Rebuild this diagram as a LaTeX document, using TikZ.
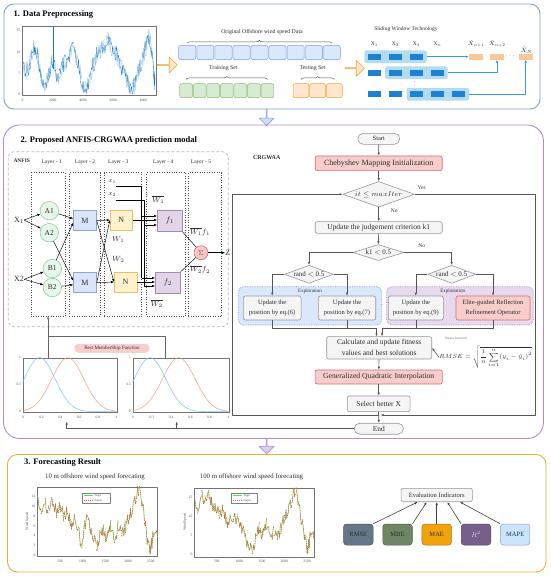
\RequirePackage{fix-cm}
\documentclass[tikz,border=0pt]{standalone}
\usepackage{amsmath}
\usepackage{amssymb}
\usepackage{fontspec}
\setmainfont{Liberation Serif}
\usepackage{tikz}
\usetikzlibrary{arrows.meta}
\usetikzlibrary{shapes.geometric}
\usetikzlibrary{shapes.arrows}
\usetikzlibrary{decorations.pathreplacing}

\newcommand{\fsz}[2]{\fontsize{#1}{#2}\selectfont}

\definecolor{secblue}{RGB}{125,160,215}
\definecolor{secpurple}{RGB}{175,140,205}
\definecolor{secorange}{RGB}{235,175,50}
\definecolor{cellblue}{RGB}{218,232,252}
\definecolor{lineblue}{RGB}{120,160,215}
\definecolor{cellgreen}{RGB}{215,234,210}
\definecolor{linegreen}{RGB}{140,190,120}
\definecolor{cellorange}{RGB}{255,230,204}
\definecolor{lineorange}{RGB}{230,170,60}
\definecolor{winfill}{RGB}{180,220,240}
\definecolor{windark}{RGB}{30,130,210}
\definecolor{predfill}{RGB}{250,200,150}
\definecolor{arrowblue}{RGB}{60,150,230}
\definecolor{downblue}{RGB}{205,222,246}
\definecolor{downpurple}{RGB}{222,205,236}
\definecolor{boxgray}{RGB}{150,150,150}
\definecolor{fillgray}{RGB}{245,245,245}
\definecolor{flowgray}{RGB}{85,85,85}
\definecolor{redfill}{RGB}{248,206,204}
\definecolor{redline}{RGB}{210,110,110}
\definecolor{mfill}{RGB}{218,228,250}
\definecolor{mline}{RGB}{140,165,215}
\definecolor{nfill}{RGB}{255,242,204}
\definecolor{nline}{RGB}{225,195,100}
\definecolor{ffill}{RGB}{225,213,231}
\definecolor{fline}{RGB}{165,135,190}
\definecolor{cfill}{RGB}{230,246,234}
\definecolor{cline}{RGB}{130,200,145}
\definecolor{sfill}{RGB}{248,200,200}
\definecolor{sline}{RGB}{205,95,95}
\definecolor{anfisline}{RGB}{200,170,225}
\definecolor{explfill}{RGB}{218,232,252}
\definecolor{expline}{RGB}{120,160,220}
\definecolor{exptfill}{RGB}{231,218,238}
\definecolor{exptline}{RGB}{170,135,200}
\definecolor{tsblue}{RGB}{30,120,200}
\definecolor{tslight}{RGB}{180,215,243}
\definecolor{mfblue}{RGB}{120,195,235}
\definecolor{mforange}{RGB}{240,160,130}
\definecolor{tgreen}{RGB}{90,225,90}
\definecolor{tred}{RGB}{240,70,70}
\definecolor{ermse}{RGB}{100,118,135}
\definecolor{embe}{RGB}{109,135,100}
\definecolor{emae}{RGB}{240,163,10}
\definecolor{err}{RGB}{118,96,138}
\definecolor{emape}{RGB}{204,229,255}
\definecolor{txt}{RGB}{45,45,45}

\tikzset{
	secframe/.style={line width=0.9pt, rounded corners=#1},
	sectitle/.style={anchor=west, inner sep=0pt, text=black, font=\fsz{8.5}{10}\bfseries},
	smalltext/.style={inner sep=0pt, text=txt, font=\fsz{#1}{#1}},
	ticklbl/.style={inner sep=0pt, text=black!70, font=\fsz{3.6}{4}},
	datacell/.style={draw=#1, line width=0.5pt, rounded corners=2pt, inner sep=0pt, minimum height=14},
	bigarrow/.style={single arrow, draw=#1, line width=0.6pt, inner sep=0pt, single arrow head extend=4pt},
	winbox/.style={fill=winfill, rounded corners=2pt, inner sep=0pt, minimum width=62.5, minimum height=12.6},
	winsq/.style={fill=windark, inner sep=0pt, minimum width=13.5, minimum height=5.8},
	predsq/.style={fill=predfill, inner sep=0pt, minimum width=14, minimum height=5.8},
	winarrow/.style={->, draw=arrowblue, line width=0.5pt},
	layerbox/.style={draw=black!70, dotted, line width=0.45pt, inner sep=0pt, minimum height=143.3},
	fuzzy/.style={circle, draw=cline, fill=cfill, line width=0.5pt, minimum size=18.5, inner sep=0pt, text=txt, font=\fsz{7.5}{8}},
	mnode/.style={draw=mline, fill=mfill, line width=0.5pt, minimum width=23, minimum height=20, inner sep=0pt, text=txt, font=\fsz{8}{9}},
	nnode/.style={mnode, draw=nline, fill=nfill, minimum width=22.5},
	fnode/.style={mnode, draw=fline, fill=ffill, minimum width=25, minimum height=21.5},
	sumnode/.style={circle, draw=sline, fill=sfill, line width=0.5pt, minimum size=14, inner sep=0pt, text=sline!70!black, font=\fsz{7}{8}},
	net/.style={->, line width=0.45pt},
	flowbox/.style={draw=boxgray, fill=fillgray, line width=0.6pt, rounded corners=2pt, inner sep=0pt, align=center, text=txt},
	redbox/.style={flowbox, draw=redline, fill=redfill},
	pill/.style={flowbox, rounded corners=5.5pt},
	decide/.style={diamond, aspect=2.8, draw=boxgray, fill=fillgray, line width=0.6pt, inner sep=0pt, text=txt, font=\fsz{7}{8}},
	regionbox/.style={draw=#1, densely dotted, line width=0.7pt, rounded corners=5pt, inner sep=0pt},
	flow/.style={->, draw=flowgray, line width=0.6pt},
	flowline/.style={draw=flowgray, line width=0.6pt},
	redtag/.style={fill=redfill, rounded corners=4pt, inner sep=0pt, minimum width=75, minimum height=9, text=txt, font=\fsz{5}{6}},
	indic/.style={draw=#1!70!black, fill=#1, line width=0.5pt, rounded corners=3pt, minimum width=29.5, minimum height=21, inner sep=0pt, font=\fsz{6.5}{7}},
	evalarrow/.style={->, draw=black!75, line width=0.6pt},
	legendbox/.style={draw=black!50, fill=white, line width=0.3pt, minimum width=28.3, minimum height=10.6, inner sep=0pt}
}

\begin{document}
\begin{tikzpicture}[x=1pt, y=-1pt, >={Latex[length=3pt,width=2.4pt]}, line join=round]
	\useasboundingbox (0,0) rectangle (550,576);
	
	% 1. data preprocessing
	\draw[secblue, secframe=10pt] (4,4) rectangle (540,109);
	\node[sectitle] (title1) at (13.5,14.7) {1. Data Preprocessing};
	
	\draw[black!55, line width=0.4pt] (22.5,26.5) rectangle (156,94.8);
	\begin{scope}
		\clip (22.5,26.5) rectangle (156,94.8);
		\begin{scope}[shift={(22.5,94.8)}, xscale=0.01513, yscale=-4.287]
			\foreach \xb/\yb [remember=\xb as \xa (initially 0), remember=\yb as \ya (initially 7), count=\k] in {250/5, 500/8, 750/11, 950/10, 1200/5, 1450/1.5, 1700/4, 1950/8, 2150/6, 2400/4, 2650/6.5, 2900/8, 3150/10, 3400/10.5, 3650/8, 3900/3.5, 4150/1.5, 4400/3, 4650/7, 4900/9, 5150/10, 5400/11.5, 5650/12.5, 5900/11, 6150/9.5, 6400/8, 6650/6, 6900/3, 7150/1.5, 7400/2, 7650/5, 7900/8, 8150/11, 8350/13.5, 8550/10, 8700/3, 8760/4} {
				\pgfmathsetseed{\k}
				\draw[tslight, line width=0.7pt] plot[domain=\xa:\xb, samples=6] (\x, {max(0.2, \ya+(\yb-\ya)*(\x-\xa)/(\xb-\xa)+2*rand)});
				\draw[tsblue, line width=0.3pt] plot[domain=\xa:\xb, samples=6] (\x, {max(0.2, \ya+(\yb-\ya)*(\x-\xa)/(\xb-\xa)+2.2*rand)});
			}
			\draw[tsblue, line width=0.35pt] (2000,6) -- (2000,16);
		\end{scope}
	\end{scope}
	\foreach \v [count=\j] in {0,2000,4000,6000,8000}
		\node[ticklbl] (tsx\j) at ({22.5+0.01513*\v},100) {\v};
	\foreach \v [count=\j] in {0,5,10,15}
		\node[ticklbl, anchor=east] (tsy\j) at (20.5,{94.8-4.287*\v}) {\v};
	
	\node[bigarrow=lineorange, fill=cellorange, minimum height=20, minimum width=16] (arrA) at (167,65) {};
	
	\foreach \i in {0,...,8}
		\node[datacell=lineblue, fill=cellblue, minimum width=17.2] (orig\i) at ({187.3+18.05*\i},52.5) {};
	\draw[decorate, decoration={brace, amplitude=3pt}, black!65, line width=0.5pt] ([yshift=2pt]orig0.north) -- ([yshift=2pt]orig8.north);
	\node[smalltext=5.8] (origlbl) at (262,32) {Original Offshore wind speed Data};
	
	\foreach \i in {0,...,6}
		\node[datacell=linegreen, fill=cellgreen, minimum width=12.8] (train\i) at ({186.1+13.57*\i},90.7) {};
	\draw[decorate, decoration={brace, amplitude=3pt}, black!65, line width=0.5pt] ([yshift=4pt]train0.north) -- ([yshift=4pt]train6.north);
	\node[smalltext=5.8] (trainlbl) at (223.3,68.5) {Training Set};
	
	\foreach \i in {0,...,2}
		\node[datacell=lineorange, fill=cellorange, minimum width=15.9] (test\i) at ({301+16.67*\i},90.7) {};
	\draw[decorate, decoration={brace, amplitude=3pt}, black!65, line width=0.5pt] ([yshift=4pt]test0.north) -- ([yshift=4pt]test2.north);
	\node[smalltext=5.8] (testlbl) at (312.7,68.5) {Testing Set};
	
	\node[bigarrow=lineorange, fill=cellorange, minimum height=19, minimum width=16] (arrB) at (354.5,68.3) {};
	
	\node[smalltext=5.5] (slidelbl) at (406,28.7) {Sliding Window Technology};
	\foreach \lbl/\cx [count=\j] in {1/374.5, 2/395.5, 3/416.5, n/437.5}
		\node[smalltext=5.5] (xl\j) at (\cx,44.5) {X$_\lbl$};
	\node[winbox] (win1) at (395.5,56.7) {};
	\node[winbox] (win2) at (416.4,72.7) {};
	\node[winbox] (win3) at (437.8,94.3) {};
	\foreach \r/\yy/\n in {1/56.7/3, 2/72.7/4, 3/94.3/5}
		\foreach \c in {1,...,\n}
			\node[winsq] (sq\r\c) at ({353.5+21*\c},\yy) {};
	\node[smalltext=5] (vdot) at (414.5,83.3) {$\vdots$};
	\node[predsq] (pred1) at (476,56.7) {};
	\node[predsq] (pred2) at (497,56.7) {};
	\node[predsq] (predN) at (525.7,56.7) {};
	\node[smalltext=5.6] (pl1) at (476,44) {$\hat{X}_{n+1}$};
	\node[smalltext=5.6] (pl2) at (497,44) {$\hat{X}_{n+2}$};
	\node[smalltext=6.2] (plN) at (526.5,50) {$\hat{X}_N$};
	\node[smalltext=5.2] (pdots) at (510.7,56.7) {$\cdots$};
	\draw[winarrow] (win1.east) -- (pred1.west);
	\draw[winarrow] (win2.east) -| (pred2.south);
	\draw[winarrow] (win3.east) -| (predN.south);
	
	\node[bigarrow=secblue, fill=downblue, shape border rotate=270, minimum height=16, minimum width=15] (downA) at (266.6,117.3) {};
	
	% 2. ANFIS-CRGWAA
	\draw[secpurple, secframe=16pt] (3.5,125) rectangle (543.5,438.5);
	\node[sectitle] (title2) at (20.5,140.7) {2. Proposed ANFIS-CRGWAA prediction modal};
	
	\draw[anfisline, dash pattern=on 3pt off 2pt, line width=0.7pt, rounded corners=6pt] (8.3,151.7) rectangle (228.3,326.7);
	\node[smalltext=5.5, anchor=west, font=\fsz{5.5}{6}\bfseries] (anfislbl) at (13.3,161) {ANFIS};
	\foreach \cx/\w/\lx [count=\n] in {48/34/51.7, 84.65/30.7/85, 123/37.4/118.3, 166.2/39/163.3, 205/33.4/201} {
		\node[layerbox, minimum width=\w] (L\n) at (\cx,244.35) {};
		\node[smalltext=5.5] (Llbl\n) at (\lx,162.7) {Layer - \n};
	}
	
	\node[smalltext=8] (inX1) at (19,220) {X$_1$};
	\node[smalltext=8] (inX2) at (19,279.3) {X2};
	\node[fuzzy] (A1) at (49.3,210.7) {A1};
	\node[fuzzy] (A2) at (49.3,232.7) {A2};
	\node[fuzzy] (B1) at (52.3,268.5) {B1};
	\node[fuzzy] (B2) at (52.3,287.5) {B2};
	\node[mnode] (M1) at (85,220.7) {M};
	\node[mnode] (M2) at (85,282.7) {M};
	\node[nnode] (N1) at (121.3,220) {N};
	\node[nnode] (N2) at (125.5,282) {N};
	\node[fnode] (F1) at (169.8,220.8) {$f_1$};
	\node[fnode] (F2) at (167.8,282.8) {$f_2$};
	\node[sumnode] (S) at (201,252.7) {$\Sigma$};
	\node[smalltext=8] (outZ) at (227.7,252.7) {Z};
	\node[smalltext=6.2] (smx1) at (112.3,181.7) {$x_1$};
	\node[smalltext=6.2] (smx2) at (112.3,195) {$x_2$};
	\node[smalltext=7.5] (wb1) at (158.3,199.3) {$\overline{W_1}$};
	\node[smalltext=7.5] (wb2) at (156.7,303.3) {$\overline{W_2}$};
	\node[smalltext=7.5] (w1) at (118.3,239.3) {$W_1$};
	\node[smalltext=7.5] (w2) at (118.3,259.3) {$W_2$};
	\node[smalltext=7.5] (wf1) at (200,231.7) {$\overline{W_1}f_1$};
	\node[smalltext=7.5] (wf2) at (200,269.3) {$\overline{W_2}f_2$};
	
	\draw[net] (inX1.east) -- (A1);
	\draw[net] (inX1.east) -- (A2);
	\draw[net] (inX2.east) -- (B1);
	\draw[net] (inX2.east) -- (B2);
	\draw[net] (A1) -- ([yshift=2pt]M1.west);
	\draw[net] (B1) -- ([yshift=-2pt]M1.west);
	\draw[net] (A2) -- ([yshift=2pt]M2.west);
	\draw[net] (B2) -- ([yshift=-2pt]M2.west);
	\draw[net] (M1.east) -- (N1.west);
	\draw[net] (M1.east) -- (N2.west);
	\draw[net] (M2.east) -- (N1.west);
	\draw[net] (M2.east) -- (N2.west);
	\coordinate (busA) at (141.5,186.7);
	\coordinate (busB) at (144,200.7);
	\draw[line width=0.45pt] (busA -| smx1.east) -- (busA) -- (busA |- 0,278);
	\draw[line width=0.45pt] (busB -| smx2.east) -- (busB) -- (busB |- 0,286);
	\draw[net] (busA |- 0,216) -- (F1.west |- 0,216);
	\draw[net] (N1.east) -- (N1.east -| F1.west);
	\draw[net] (busB |- 0,225) -- (F1.west |- 0,225);
	\draw[net] (busA |- 0,278) -- (F2.west |- 0,278);
	\draw[net] (N2.east) -- (N2.east -| F2.west);
	\draw[net] (busB |- 0,286) -- (F2.west |- 0,286);
	\draw[line width=0.45pt] (F1.south east) -- (S);
	\draw[line width=0.45pt] (F2.north east) -- (S);
	\draw[net] (S) -- (outZ);
	
	\foreach \ox/\w [count=\k] in {22.7/94, 132.7/96} {
		\draw[black!55, line width=0.4pt] (\ox,357.7) rectangle ++(\w,54);
		\begin{scope}[shift={(\ox,411.7)}, xscale=\w, yscale=-54]
			\draw[mfblue, line width=0.5pt] plot[domain=0:1, samples=50] (\x, {exp(-(\x-0.18)*(\x-0.18)/0.0545)});
			\draw[mforange, line width=0.5pt] plot[domain=0:1, samples=50] (\x, {exp(-(\x-0.48)*(\x-0.48)/0.0578)});
		\end{scope}
		\foreach \v [count=\j] in {0,0.2,0.4,0.6,0.8,1}
			\node[ticklbl] (mf\k-x\j) at ({\ox+\w*\v},417) {\v};
		\foreach \v/\yy [count=\j] in {0/411.7, 0.5/384.7, 1/357.7}
			\node[ticklbl, anchor=east] (mf\k-y\j) at ({\ox-1.5},\yy) {\v};
	}
	\coordinate (mfA) at (48,357.7);
	\coordinate (mfB) at (164.9,357.7);
	\draw[->, black!60, line width=0.7pt] (mfA) -- (L1.south);
	\draw[black!60, line width=0.7pt] (mfB) |- (mfA |- 0,336.5);
	\node[redtag] (bestmf) at (112,348.3) {Best MemberShip Function};
	
	\node[smalltext=6, font=\fsz{6}{7}\bfseries] (crglbl) at (266.7,157.3) {CRGWAA};
	\node[regionbox=expline, fill=explfill, minimum width=143.4, minimum height=38.3] (explore) at (310,305.85) {};
	\node[regionbox=exptline, fill=exptfill, minimum width=146.6, minimum height=38.3] (exploit) at (460,305.85) {};
	\node[smalltext=5] (explorelbl) at (310,291) {Exploration};
	\node[smalltext=5] (exploitlbl) at (452.7,291) {Exploitation};
	
	\node[pill, minimum width=42, minimum height=11, font=\fsz{6.5}{7}] (start) at (378.8,138.8) {Start};
	\node[redbox, minimum width=127, minimum height=14.7, font=\fsz{8}{9}] (cheb) at (378.7,163.3) {Chebyshev Mapping Initialization};
	\node[decide, minimum width=71.7, minimum height=25.6] (iter) at (378.7,194.3) {$it \le maxIter$};
	\node[flowbox, minimum width=127, minimum height=11.7, font=\fsz{7.5}{8}] (judge) at (378.7,227.5) {Update the judgement criterion k1};
	\node[decide, minimum width=51, minimum height=16] (kone) at (378.3,252.5) {k1 $<$ 0.5};
	\node[decide, minimum width=49, minimum height=18] (randL) at (309,274.3) {rand $<$ 0.5};
	\node[decide, minimum width=48, minimum height=18] (randR) at (451.7,274.3) {rand $<$ 0.5};
	\node[flowbox, minimum width=57.7, minimum height=24, font=\fsz{6.5}{10.5}] (eqsix) at (272.2,308) {Update the\\position by eq.(6)};
	\node[flowbox, minimum width=57.4, minimum height=24, font=\fsz{6.5}{10.5}] (eqseven) at (347,308) {Update the\\position by eq.(7)};
	\node[flowbox, minimum width=55, minimum height=24, font=\fsz{6.5}{10.5}] (eqnine) at (415.8,308) {Update the\\position by eq.(9)};
	\node[redbox, minimum width=74, minimum height=24, font=\fsz{6.5}{10.5}] (elite) at (493,308) {Elite-guided Reflection\\Refinement Operator};
	\node[flowbox, minimum width=105, minimum height=22.3, font=\fsz{7.5}{11}] (calc) at (379.2,347.8) {Calculate and update fitness\\values and best solutions};
	\node[redbox, minimum width=127.3, minimum height=14, font=\fsz{7.7}{8}] (gqi) at (378.7,377) {Generalized Quadratic Interpolation};
	\node[flowbox, minimum width=62.7, minimum height=15.7, font=\fsz{7.5}{8}] (sel) at (378.7,403.8) {Select better X};
	\node[pill, minimum width=49.4, minimum height=11, font=\fsz{7.5}{8}] (end) at (378.8,428.7) {End};
	\node[smalltext=3.6, text=black!55] (fitlbl) at (456,338) {fitness function};
	\node[smalltext=6, anchor=west] (rmse) at (439,357.3) {$RMSE=\sqrt{\displaystyle\frac{1}{n}\sum_{i=1}^{n}(y_i-\hat{y}_i)^2}$};
	\node[smalltext=5.5] (yes) at (421.7,187.3) {Yes};
	\node[smalltext=5.5] (noA) at (394.3,210.7) {No};
	\node[smalltext=5.5] (noB) at (421.7,245.7) {No};
	
	\draw[flow] (start) -- (cheb);
	\draw[flow] (cheb) -- (iter);
	\draw[flow] (iter) -- (judge);
	\draw[flow] (judge) -- (kone);
	\draw[flow] (kone.west) -| (randL.north);
	\draw[flow] (kone.east) -| (randR.north);
	\draw[flow] (randL.west) -| (eqsix.north);
	\draw[flow] (randL.east) -| (eqseven.north);
	\draw[flow] (randR.west) -| (eqnine.north);
	\draw[flow] (randR.east) -| (elite.north);
	\coordinate (mergeL) at (376.5,328.3);
	\coordinate (mergeR) at (382,328.3);
	\draw[flowline] (eqsix.south) |- (mergeL);
	\draw[flowline] (eqseven.south) -- (eqseven.south |- mergeL);
	\draw[flowline] (elite.south) |- (mergeR);
	\draw[flowline] (eqnine.south) -- (eqnine.south |- mergeR);
	\draw[flow] (mergeL) -- (mergeL |- calc.north);
	\draw[flow] (mergeR) -- (mergeR |- calc.north);
	\draw[flow] (rmse.west) -- (calc.east);
	\draw[flow] (calc) -- (gqi);
	\draw[flow] (gqi) -- (sel);
	\coordinate (loopSW) at (232.7,415);
	\coordinate (loopSE) at (535.7,415);
	\coordinate (joinR) at (380.5,415);
	\draw[flow] (sel.south) |- (loopSW) |- (iter.west);
	\draw[flow] (iter.east) -| (loopSE) -- (joinR);
	\draw[flow] (sel.south |- loopSW) -- (end.north);
	\coordinate (fbA) at (66.7,421.5);
	\coordinate (fbB) at (176.7,421.5);
	\draw[flow] (end.west) -| (fbA);
	\draw[flow] (fbB |- end.west) -- (fbB);
	
	\node[bigarrow=secpurple, fill=downpurple, shape border rotate=270, minimum height=15, minimum width=15] (downB) at (266.6,446) {};
	
	% 3. forecasting result
	\draw[secorange, secframe=10pt] (7.5,454.5) rectangle (546,572);
	\node[sectitle] (title3) at (24,462.7) {3. Forecasting Result};
	\node[smalltext=6.8] (ttl10) at (95,476.7) {10 m offshore wind speed forecating};
	\node[smalltext=6.8] (ttl100) at (251.5,476.5) {100 m offshore wind speed forecating};
	
	\draw[black!55, line width=0.4pt] (37.3,486.7) rectangle (157.3,556);
	\begin{scope}
		\clip (37.3,486.7) rectangle (157.3,556);
		\begin{scope}[shift={(37.3,555)}, xscale=0.0454, yscale=-4.858]
			\foreach \xb/\yb [remember=\xb as \xa (initially 0), remember=\yb as \ya (initially 12), count=\k] in {80/9.5, 160/11, 240/9, 320/12, 420/9, 500/10, 580/7.5, 660/9, 740/6, 820/8, 900/5, 980/2, 1040/6, 1120/7.5, 1200/4, 1300/2, 1380/4, 1460/5, 1540/3.5, 1620/6, 1700/2, 1780/6, 1860/4, 1940/6, 2020/8, 2100/10, 2180/12, 2240/13.5, 2300/11, 2360/8, 2420/3, 2480/1, 2560/4, 2650/3.5} {
				\pgfmathsetseed{\k}
				\draw[tgreen, line width=0.5pt] plot[domain=\xa:\xb, samples=6] (\x, {max(0.1, \ya+(\yb-\ya)*(\x-\xa)/(\xb-\xa)+1.5*rand)});
				\pgfmathsetseed{\k}
				\draw[tred, line width=0.5pt, dash pattern=on 1.2pt off 1pt] plot[domain=\xa:\xb, samples=6] (\x, {max(0.1, \ya+(\yb-\ya)*(\x-\xa)/(\xb-\xa)+1.5*rand)});
			}
		\end{scope}
	\end{scope}
	\foreach \v [count=\j] in {500,1000,1500,2000,2500}
		\node[ticklbl] (fa-x\j) at ({37.3+0.0454*\v},561) {\v};
	\foreach \v [count=\j] in {0,2,4,6,8,10,12}
		\node[ticklbl, anchor=east] (fa-y\j) at (35.5,{555-4.858*\v}) {\v};
	\node[ticklbl, rotate=90] (fa-lbl) at (27.3,521.3) {Wind Speed};
	\node[legendbox] (lega) at (95.8,498) {};
	\draw[tgreen, line width=0.5pt] ([xshift=2pt,yshift=2.5pt]lega.west) -- ++(9,0) node[ticklbl, anchor=west, font=\fsz{2.8}{3}, xshift=1.5pt] (lega-t) {Target};
	\draw[tred, line width=0.5pt, dash pattern=on 1.2pt off 1pt] ([xshift=2pt,yshift=-2.5pt]lega.west) -- ++(9,0) node[ticklbl, anchor=west, font=\fsz{2.8}{3}, xshift=1.5pt] (lega-o) {Output};
	
	\draw[black!55, line width=0.4pt] (194.3,487.7) rectangle (314.3,556.7);
	\begin{scope}
		\clip (194.3,487.7) rectangle (314.3,556.7);
		\begin{scope}[shift={(194.1,554.3)}, xscale=0.0452, yscale=-3.8]
			\foreach \xb/\yb [remember=\xb as \xa (initially 0), remember=\yb as \ya (initially 15), count=\k] in {80/12, 160/16, 240/14, 320/17, 400/13, 480/12, 560/10, 640/12, 720/8, 800/10, 880/9, 960/10, 1040/7, 1120/5, 1200/2, 1280/1, 1360/4, 1440/7, 1520/5, 1600/8, 1680/4, 1760/6, 1840/4, 1920/7, 2000/10, 2080/12, 2160/14, 2240/17, 2300/14, 2360/10, 2440/5, 2500/1, 2580/5, 2650/4} {
				\pgfmathsetseed{\k}
				\draw[tgreen, line width=0.5pt] plot[domain=\xa:\xb, samples=6] (\x, {max(0.1, \ya+(\yb-\ya)*(\x-\xa)/(\xb-\xa)+1.8*rand)});
				\pgfmathsetseed{\k}
				\draw[tred, line width=0.5pt, dash pattern=on 1.2pt off 1pt] plot[domain=\xa:\xb, samples=6] (\x, {max(0.1, \ya+(\yb-\ya)*(\x-\xa)/(\xb-\xa)+1.8*rand)});
			}
		\end{scope}
	\end{scope}
	\foreach \v [count=\j] in {500,1000,1500,2000,2500}
		\node[ticklbl] (fb-x\j) at ({194.1+0.0452*\v},561) {\v};
	\foreach \v [count=\j] in {0,5,10,15}
		\node[ticklbl, anchor=east] (fb-y\j) at (192.5,{554.3-3.8*\v}) {\v};
	\node[ticklbl, rotate=90] (fb-lbl) at (185,522) {Wind Speed};
	\node[legendbox, minimum width=26] (legb) at (243.7,498) {};
	\draw[tgreen, line width=0.5pt] ([xshift=2pt,yshift=2.5pt]legb.west) -- ++(9,0) node[ticklbl, anchor=west, font=\fsz{2.8}{3}, xshift=1.5pt] (legb-t) {Target};
	\draw[tred, line width=0.5pt, dash pattern=on 1.2pt off 1pt] ([xshift=2pt,yshift=-2.5pt]legb.west) -- ++(9,0) node[ticklbl, anchor=west, font=\fsz{2.8}{3}, xshift=1.5pt] (legb-o) {Output};
	
	\node[flowbox, minimum width=71.3, minimum height=13.4, font=\fsz{6.5}{7}] (evalind) at (436.7,495) {Evaluation Indicators};
	\foreach \nm/\cx/\col/\tc/\anc/\dx/\lbl in {ermse/358.3/ermse/txt/north east/-19/RMSE, embe/397.5/embe/txt/north east/-10/MBE, emae/436.7/emae/txt/north/0/MAE, err/476/err/white!75!err/north west/10.6/$R^2$, emape/515.2/emape/txt/north west/23.3/MAPE} {
		\node[indic=\col, text=\tc] (\nm) at (\cx,534.5) {\lbl};
		\draw[evalarrow] (\nm.\anc) -- ([xshift=\dx pt]evalind.south);
	}
	
\end{tikzpicture}
\end{document}
